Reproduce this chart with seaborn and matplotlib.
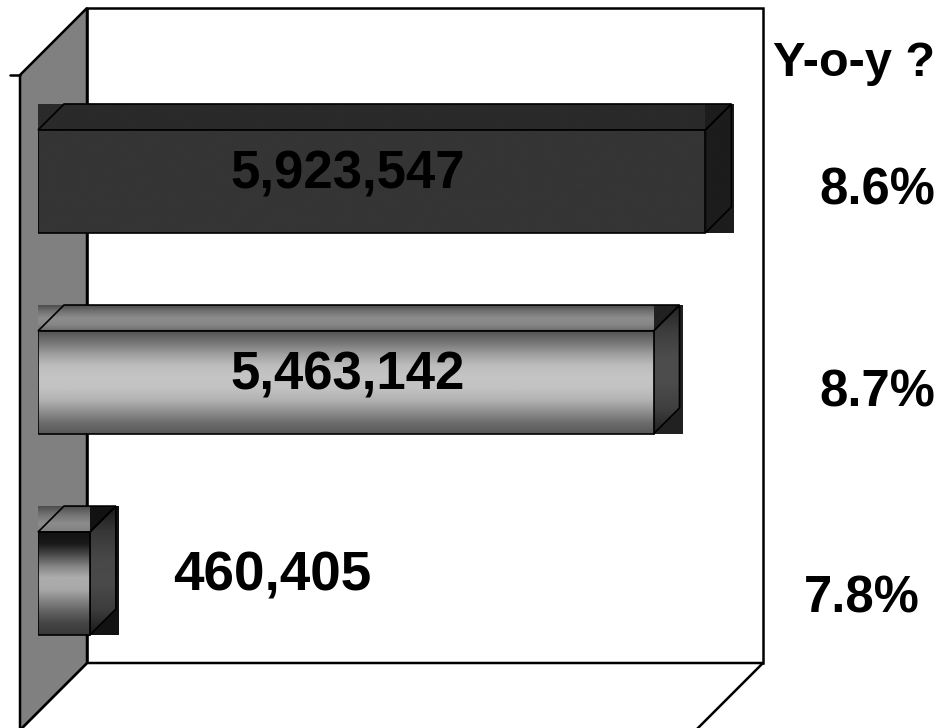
import numpy as np
import pandas as pd
import matplotlib
matplotlib.use("Agg")
import matplotlib.pyplot as plt
import seaborn as sns
from matplotlib.patches import Polygon
from matplotlib.lines import Line2D
from matplotlib.transforms import Affine2D, blended_transform_factory, offset_copy

# ---- data -------------------------------------------------------------
categories = ["Total", "Group 1", "Group 2"]
values = [5923547, 5463142, 460405]
yoy_pct = [8.6, 8.7, 7.8]
yoy_header = "Y-o-y ?"
x_max = 6_000_000

# ---- layout (pixels, origin top-left) ---------------------------------
FIG_W, FIG_H, DPI = 939, 728, 100
PLANE_L, PLANE_T, PLANE_W, PLANE_H = 38, 57, 676, 655   # front plane of the bars
WALL_FRONT = 18      # box front sits this far in front of the bar plane
WALL_BACK = 49       # back wall sits this far behind the bar plane
BAR_DEPTH = 26       # depth of each bar
BAR_WIDTH = 0.512

sns.set_theme(style="white")
plt.rcParams["font.family"] = ["Liberation Sans", "DejaVu Sans"]

fig = plt.figure(figsize=(FIG_W / DPI, FIG_H / DPI), dpi=DPI)
fig.patch.set_facecolor("white")
ax = fig.add_axes([PLANE_L / FIG_W, (FIG_H - PLANE_T - PLANE_H) / FIG_H,
                   PLANE_W / FIG_W, PLANE_H / FIG_H])

# pixel transform with a top-left origin
px = Affine2D().scale(1 / FIG_W, -1 / FIG_H).translate(0, 1) + fig.transFigure

# ---- bars (front faces) -----------------------------------------------
df = pd.DataFrame({"category": categories, "value": values})
sns.barplot(data=df, x="value", y="category", hue="category", orient="h",
            palette=["#353535", "#8a8a8a", "#707070"], width=BAR_WIDTH,
            legend=False, ax=ax, zorder=4, edgecolor="black", linewidth=1.2)
bars = [b for cont in ax.containers for b in cont]
bars.sort(key=lambda b: b.get_y())

ylim = (len(categories) - 1 + 0.639, -0.619)
ax.set_xlim(0, x_max)
ax.set_ylim(*ylim)

# ---- box: back wall, left wall, floor ---------------------------------
L, T = PLANE_L, PLANE_T
R, B = PLANE_L + PLANE_W, PLANE_T + PLANE_H
fL, fT, fR, fB = L - WALL_FRONT, T + WALL_FRONT, R - WALL_FRONT, B + WALL_FRONT
bL, bT, bR, bB = L + WALL_BACK, T - WALL_BACK, R + WALL_BACK, B - WALL_BACK

wall_kw = dict(transform=px, clip_on=False, edgecolor="black", linewidth=1.8,
               joinstyle="miter")
ax.add_patch(Polygon([(bL, bT), (bR, bT), (bR, bB), (bL, bB)], closed=True,
                     facecolor="white", zorder=0.5, **wall_kw))
ax.add_patch(Polygon([(bL, bB), (bR, bB), (fR, fB), (fL, fB)], closed=True,
                     facecolor="white", zorder=0.6, **wall_kw))
ax.add_patch(Polygon([(fL, fT), (bL, bT), (bL, bB), (fL, fB)], closed=True,
                     facecolor="#808080", zorder=0.7, **wall_kw))
ax.add_line(Line2D([fL - 10, fL], [fT, fT], color="black", linewidth=1.8,
                   transform=px, clip_on=False, zorder=0.8))

# shading of each bar: (front, top, side, corner) as gray-level stops top->bottom
shading = [
    dict(front=[0.21, 0.21], top=[0.165, 0.165], side=[0.11, 0.11], corner=0.11),
    dict(front=[0.33, 0.46, 0.62, 0.74, 0.77, 0.76, 0.70, 0.57, 0.43, 0.34],
         top=[0.30, 0.45, 0.55, 0.53, 0.42],
         side=[0.14, 0.24, 0.30, 0.30, 0.25, 0.13], corner=0.13),
    dict(front=[0.07, 0.10, 0.30, 0.52, 0.68, 0.66, 0.52, 0.38, 0.27, 0.22],
         top=[0.30, 0.45, 0.55, 0.50],
         side=[0.10, 0.22, 0.28, 0.29, 0.24, 0.10], corner=0.07),
]


def gradient(stops, n=256):
    s = np.asarray(stops, dtype=float)
    return np.interp(np.linspace(0, 1, n), np.linspace(0, 1, len(s)), s)[:, None]


def shade(patch, extent, stops, z):
    img = ax.imshow(gradient(stops), cmap="gray", vmin=0, vmax=1, extent=extent,
                    aspect="auto", interpolation="bilinear", zorder=z)
    img.set_clip_box(fig.bbox)
    img.set_clip_path(patch)


# depth of a bar expressed in data units
ddx = BAR_DEPTH * x_max / PLANE_W
ddy = BAR_DEPTH * (ylim[0] - ylim[1]) / PLANE_H
pad_x = 3 * x_max / PLANE_W

for bar, sh in zip(bars, shading):
    x0, w = bar.get_x(), bar.get_width()
    y0, h = bar.get_y(), bar.get_height()
    x1, y1 = x0 + w, y0 + h
    gray = str(sh["corner"])

    # corner block behind the right end
    ax.add_patch(Polygon([(x1, y0 - ddy), (x1 + ddx + pad_x, y0 - ddy),
                          (x1 + ddx + pad_x, y1), (x1, y1)], closed=True,
                         facecolor=gray, edgecolor="none", zorder=3,
                         clip_on=False))

    # top band (includes the corner in front of the slanted edge)
    band = Polygon([(x0, y0 - ddy), (x1, y0 - ddy), (x1, y0), (x0, y0)],
                   closed=True, facecolor="none", edgecolor="none", zorder=3,
                   clip_on=False)
    ax.add_patch(band)
    shade(band, (x0, x1, y0, y0 - ddy), sh["top"], 3.1)

    # side face
    side = Polygon([(x1, y0), (x1 + ddx, y0 - ddy), (x1 + ddx, y1 - ddy), (x1, y1)],
                   closed=True, facecolor="none", edgecolor="black",
                   linewidth=1.2, zorder=3.5, clip_on=False)
    ax.add_patch(side)
    shade(side, (x1, x1 + ddx, y1, y0 - ddy), sh["side"], 3.2)

    # top face outline
    ax.add_patch(Polygon([(x0, y0), (x0 + ddx, y0 - ddy), (x1 + ddx, y0 - ddy),
                          (x1, y0)], closed=True, facecolor="none",
                         edgecolor="black", linewidth=1.2, zorder=3.5,
                         clip_on=False))

    # front face shading
    shade(bar, (x0, x1, y1, y0), sh["front"], 4.1)
    bar.set_zorder(4.5)
    bar.set_facecolor("none")

ax.set_xlim(0, x_max)
ax.set_ylim(*ylim)
ax.set_axis_off()

# ---- labels -------------------------------------------------------------
val_tr = offset_copy(blended_transform_factory(ax.transAxes, ax.transData),
                     fig=fig, y=-7, units="dots")
for i, v in enumerate(values):
    label = f"{v:,}"
    if v / x_max > 0.5:
        ax.text(0.4586, i, label, transform=val_tr, ha="center", va="baseline",
                fontsize=38, fontweight="bold", color="black", zorder=10)
    else:
        ax.text(0.200, i, label, transform=val_tr, ha="left", va="baseline",
                fontsize=39.5, fontweight="bold", color="black", zorder=10)

pct_x = [819, 819, 804]
pct_dy = [-23.5, -24, -28.5]
for i, (p, xx, dy) in enumerate(zip(yoy_pct, pct_x, pct_dy)):
    tr = offset_copy(blended_transform_factory(px, ax.transData), fig=fig,
                     y=dy, units="dots")
    ax.text(xx, i, f"{p:.1f}%", transform=tr, ha="left", va="baseline",
            fontsize=36.5, fontweight="bold", color="black", zorder=10)

ax.text(773, 76, yoy_header, transform=px, ha="left", va="baseline",
        fontsize=35, fontweight="bold", color="black", zorder=10)

fig.savefig("out.png", dpi=DPI, facecolor="white")
